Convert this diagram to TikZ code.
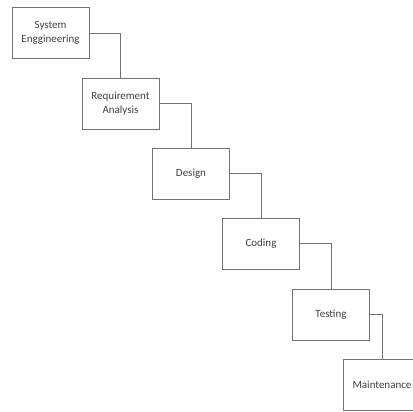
\documentclass[tikz,border=0pt]{standalone}
\usepackage{fontspec}
\setmainfont{Carlito}
\begin{document}
\begin{tikzpicture}[x=1pt,y=-1pt,
  phase/.style={draw=black!55,line width=0.9pt,minimum width=77pt,minimum height=51pt,inner sep=1pt,align=center,font=\fontsize{11}{14.5}\selectfont,text=black!75},
  link/.style={draw=black!55,line width=0.9pt}]
\useasboundingbox (0,0) rectangle (412,412);
\node[phase] (a) at (50.5,33) {System\\Enggineering};
\node[phase] (b) at (120.5,103.5) {Requirement\\Analysis};
\node[phase] (c) at (191,173.5) {Design};
\node[phase] (d) at (261,243.5) {Coding};
\node[phase] (e) at (331,314.5) {Testing};
\node[phase] (f) at (382,384.5) {Maintenance};
\draw[link] (a.east) -| (b.north);
\draw[link] (b.east) -| (c.north);
\draw[link] (c.east) -| (d.north);
\draw[link] (d.east) -| (e.north);
\draw[link] (e.east) -| (f.north);
\end{tikzpicture}
\end{document}
